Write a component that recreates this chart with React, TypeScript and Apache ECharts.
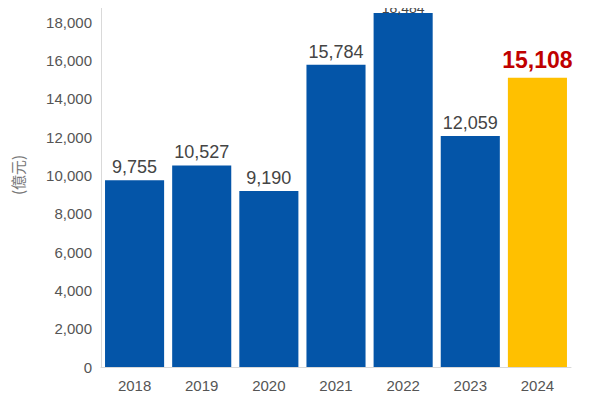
import React, { useEffect, useRef } from "react";
import * as echarts from "echarts";

const years = ["2018", "2019", "2020", "2021", "2022", "2023", "2024"];
const amounts = [9755, 10527, 9190, 15784, 18484, 12059, 15108];
const highlightYear = "2024";
const unitLabel = "(億元)";

const BLUE = "#0455A8";
const GOLD = "#FFC000";
const RED = "#C00000";

export default function App() {
  const ref = useRef<HTMLDivElement>(null);

  useEffect(() => {
    if (!ref.current) return;
    const chart = echarts.init(ref.current, null, { renderer: "svg" });
    const font = "Liberation Sans, Arial, sans-serif";
    const peak = Math.max(...amounts);

    const data = amounts.map((v, i) => {
      const hi = years[i] === highlightYear;
      let label: any = undefined;
      if (hi) {
        label = { color: RED, fontSize: 23, fontWeight: "bold", distance: 6 };
      } else if (v === peak) {
        // tallest bar reaches the top edge: keep its label small and tight to the bar
        label = { distance: -2, fontSize: 14 };
      }
      return { value: v, itemStyle: { color: hi ? GOLD : BLUE }, label };
    });

    chart.setOption({
      animation: false,
      backgroundColor: "#ffffff",
      grid: { left: 101, right: 19, top: -16, bottom: 43, outerBoundsMode: "none" },
      xAxis: {
        type: "category",
        data: years,
        axisLine: { lineStyle: { color: "#d9d9d9", width: 1 } },
        axisTick: { show: false },
        axisLabel: { color: "#555555", fontSize: 15, fontFamily: font, margin: 11 },
      },
      yAxis: {
        type: "value",
        min: 0,
        max: 20000,
        interval: 2000,
        axisLine: { show: true, lineStyle: { color: "#d9d9d9", width: 1 } },
        axisTick: { show: false },
        splitLine: { show: false },
        axisLabel: {
          color: "#555555",
          fontSize: 15,
          fontFamily: font,
          margin: 9,
          showMaxLabel: false,
          formatter: (v: number) => v.toLocaleString("en-US"),
        },
      },
      graphic: [
        {
          type: "text",
          x: 17,
          y: 175,
          rotation: Math.PI / 2,
          style: {
            text: unitLabel,
            fill: "#777777",
            fontSize: 15,
            fontFamily: "Noto Sans CJK TC, sans-serif",
            align: "center",
            verticalAlign: "middle",
          },
        },
      ],
      series: [
        {
          type: "bar",
          data,
          clip: false,
          barCategoryGap: "12%",
          label: {
            show: true,
            position: "top",
            distance: 4,
            color: "#444444",
            fontSize: 18,
            fontFamily: font,
            formatter: (p: any) => Number(p.value).toLocaleString("en-US"),
          },
        },
      ],
    });

    return () => chart.dispose();
  }, []);

  return <div ref={ref} style={{ width: 590, height: 410, margin: -8 }} />;
}
